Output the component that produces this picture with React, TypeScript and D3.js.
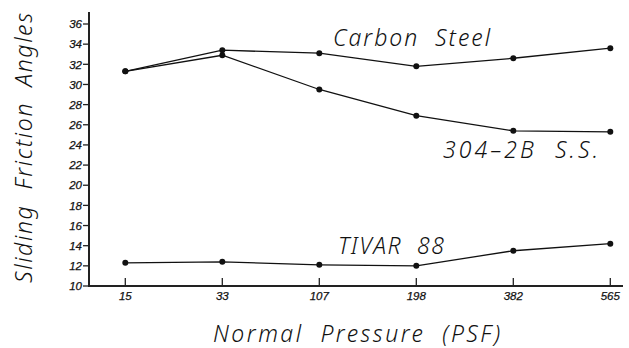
import React from "react";
import * as d3 from "d3";

const categories = ["15", "33", "107", "198", "382", "565"];
const carbonSteel = [31.3, 33.4, 33.1, 31.8, 32.6, 33.6];
const stainless = [31.3, 32.9, 29.5, 26.9, 25.4, 25.3];
const tivar = [12.3, 12.4, 12.1, 12.0, 13.5, 14.2];
const yTicks = [10, 12, 14, 16, 18, 20, 22, 24, 26, 28, 30, 32, 34, 36];

const W = 629;
const H = 348;
const axisX = 89;
const axisY = 286;

export default function App() {
  const x = d3
    .scalePoint<string>()
    .domain(categories)
    .range([125.3, 610.3]);
  const y = d3.scaleLinear().domain([10, 36]).range([286, 24]);
  const line = d3
    .line<number>()
    .x((_, i) => x(categories[i]) as number)
    .y((d) => y(d));

  const series = [carbonSteel, stainless, tivar];
  const titleFont = "'Noto Sans', sans-serif";
  const tickFont = "'Liberation Sans', Arial, sans-serif";
  const titleProps = {
    fontFamily: titleFont,
    fontStyle: "italic",
    fontWeight: 300,
    fontSize: 23,
    lengthAdjust: "spacing",
    fill: "#111",
    style: { whiteSpace: "pre" as const },
  };

  return (
    <svg
      width={W}
      height={H}
      style={{ position: "absolute", left: 0, top: 0, background: "#fff" }}
    >
      {/* axes */}
      <line x1={axisX} y1={12} x2={axisX} y2={axisY + 1} stroke="#222" strokeWidth={2} />
      <line x1={axisX - 1} y1={axisY} x2={623} y2={axisY} stroke="#222" strokeWidth={2} />
      {yTicks.map((t) => (
        <g key={t}>
          <line x1={axisX - 6} x2={axisX} y1={y(t)} y2={y(t)} stroke="#222" strokeWidth={1.3} />
          <text
            x={82}
            y={y(t) + 4.2}
            textAnchor="end"
            fontFamily={tickFont}
            fontStyle="italic"
            fontSize={11.5}
            stroke="#111"
            strokeWidth={0.25}
            fill="#111"
          >
            {t}
          </text>
        </g>
      ))}
      {categories.map((c) => (
        <g key={c}>
          <line x1={x(c)} x2={x(c)} y1={axisY - 8} y2={axisY} stroke="#222" strokeWidth={1.3} />
          <text
            x={x(c)}
            y={299.5}
            textAnchor="middle"
            fontFamily={tickFont}
            fontStyle="italic"
            fontSize={11.5}
            stroke="#111"
            strokeWidth={0.25}
            fill="#111"
          >
            {c}
          </text>
        </g>
      ))}
      {/* series */}
      {series.map((s, si) => (
        <g key={si}>
          <path d={line(s) || ""} fill="none" stroke="#111" strokeWidth={1.3} />
          {s.map((v, i) => (
            <circle key={i} cx={x(categories[i])} cy={y(v)} r={3} fill="#111" />
          ))}
        </g>
      ))}
      {/* labels */}
      <text x={333} y={46} textLength={157} {...titleProps}>
        {"Carbon  Steel"}
      </text>
      <text x={443} y={158} textLength={155} {...titleProps}>
        {"304\u20132B  S.S."}
      </text>
      <text x={338} y={254} textLength={106} {...titleProps}>
        {"TIVAR  88"}
      </text>
      <text transform={`translate(32,283) rotate(-90)`} x={0} y={0} textLength={270} {...titleProps}>
        {"Sliding  Friction  Angles"}
      </text>
      <text x={213} y={342} textLength={287} {...titleProps}>
        {"Normal  Pressure  (PSF)"}
      </text>
    </svg>
  );
}
